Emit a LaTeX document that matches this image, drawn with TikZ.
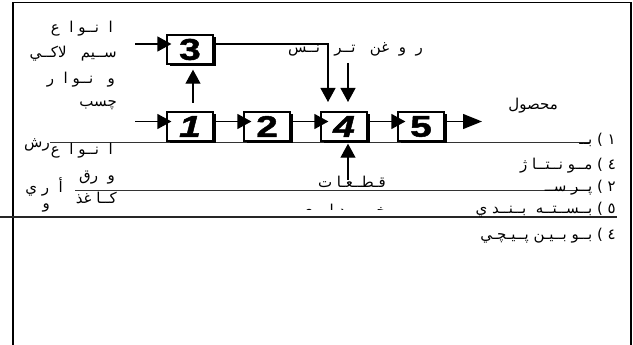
\documentclass[tikz,border=0pt]{standalone}
\usepackage{fontspec}
\usetikzlibrary{arrows.meta}
\TeXXeTstate=1
\newfontfamily\arabicfont[Script=Arabic]{DejaVu Sans}
\newfontfamily\digitfont[FakeStretch=1.3,FakeBold=1.5]{Liberation Sans}
\tikzset{
 px/.style={x=1pt,y=-1pt},
 stepbox/.style={draw=black,line width=1.2pt,fill=white,minimum width=46pt,minimum height=29pt,inner sep=0pt,font=\digitfont\bfseries\fontsize{30}{30}\selectfont},
 shade box/.style={fill=black,minimum width=46pt,minimum height=29pt,inner sep=0pt},
 conn/.style={line width=1.2pt,-{Triangle[length=14pt,width=15pt]}},
 rule/.style={line width=.7pt,draw=black!80},
 lab/.style={inner sep=0pt,anchor=base east,font=\arabicfont\fontsize{15}{15}\selectfont},
}
\begin{document}
\begin{tikzpicture}[px]
\useasboundingbox (0,0) rectangle (633,345);
\draw[line width=1.7pt] (13,345) -- (13,2.5) -- (631,2.5) -- (631,345);
% long rules
\draw[rule] (50,142) -- (590,142);
\draw[rule] (75,190) -- (590,190);
\draw[rule,line width=1.2pt,draw=black!85] (0,217) -- (617,217);
% box shadows
\node[shade box] (s3) at (193,52) {};
\node[shade box] (s1) at (193,129) {};
\node[shade box] (s2) at (270,129) {};
\node[shade box] (s4) at (347,129) {};
\node[shade box] (s5) at (424,129) {};
\node[stepbox] (n3) at (190,49.5) {3};
\node[stepbox] (n1) at (190,126.5) {\itshape 1};
\node[stepbox] (n2) at (267,126.5) {2};
\node[stepbox] (n4) at (344,126.5) {\itshape 4};
\node[stepbox] (n5) at (421,126.5) {5};
\coordinate (i3) at (135,44);
\coordinate (i1) at (135,121.5);
\coordinate (o5) at (482,121.5);
\coordinate (up) at (193,103);
\coordinate (oil) at (348,63);
\coordinate (bot) at (348,180);
\coordinate (turn) at (328,44);
\coordinate (trn) at (328,102);
\coordinate (oilend) at (348,102);
\draw[conn] (i3) -- ([xshift=5pt]n3.west |- i3);
\draw[conn] (i1) -- ([xshift=5pt]n1.west |- i1);
\draw[conn] (up) -- ([yshift=-3pt]up |- s3.south);
\draw[conn] (s1.east |- i1) -- ([xshift=8pt]n2.west |- i1);
\draw[conn] (s2.east |- i1) -- ([xshift=8pt]n4.west |- i1);
\draw[conn] (s4.east |- i1) -- ([xshift=8pt]n5.west |- i1);
\draw[line width=1.2pt,-{Triangle[length=19pt,width=15pt]}] (s5.east |- i1) -- (o5);
\draw[conn] (s3.east |- turn) -- (turn) -- (trn);
\draw[conn] (oil) -- (oilend);
\draw[conn] (bot) -- (bot |- s4.south);
% left labels
\node[lab] (l1) at (113,33) {\beginR ا~~نــو~ا~~ع\endR};
\node[lab] (l2) at (117,58) {\beginR ســيم~~~لاكــي\endR};
\node[lab] (l3) at (115,84) {\beginR و~~~نــو~ا~~ر\endR};
\node[lab] (l4) at (117,107) {\beginR چسب\endR};
\node[lab] (l5) at (50,147) {\beginR رش\endR};
\node[lab] (l6) at (113,155) {\beginR ا~~نــو~ا~~ع\endR};
\node[lab] (l7) at (115,181) {\beginR و~~رق\endR};
\node[lab] (l8) at (117,204) {\beginR كــا~غذ\endR};
\node[lab] (l9) at (63,193) {\beginR أ~~ر~ي\endR};
\node[lab] (l10) at (50,208) {\beginR و\endR};
% middle labels
\node[lab] (l12) at (423,53) {\beginR ر~~و~~غن~~~تــر~~~نــس\endR};
\node[lab] (l13) at (558,110) {\beginR محصول\endR};
\node[lab] (l14) at (386,188) {\beginR قـطــعـا~ت\endR};
\begin{scope}
\clip (300,202.5) rectangle (400,209);
\node[lab] (l15) at (386,215) {\beginR خــريــد~ا~ر~ي\endR};
\end{scope}
% right labels
\node[lab] (r1) at (616,145) {\beginR ١ ) بــ\endR};
\node[lab] (r2) at (616,169) {\beginR ٤ ) مــو~نــتــا~ژ\endR};
\node[lab] (r3) at (616,192) {\beginR ٢ ) پــر ســ\endR};
\node[lab] (r4) at (616,214) {\beginR ٥ ) بــســتــه~~بــنــد ي\endR};
\node[lab] (r5) at (616,240) {\beginR ٤ ) بــو بــيـن~پــيـچـي\endR};
\end{tikzpicture}
\end{document}
